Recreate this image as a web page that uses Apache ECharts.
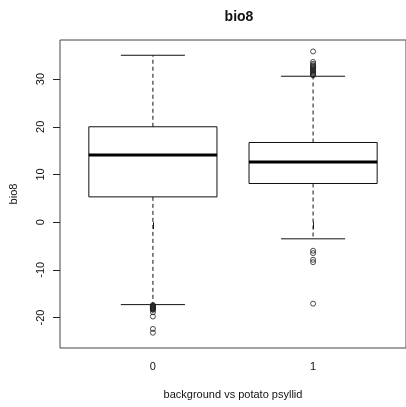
<!DOCTYPE html>
<html>
<head>
<meta charset="utf-8">
<script src="https://cdn.jsdelivr.net/npm/echarts@6/dist/echarts.min.js"></script>
<style>
html,body{margin:0;padding:0;background:#fff;}
#c{width:406px;height:407px;}
</style>
</head>
<body>
<div id="c"></div>
<script>
// Categories (x tick labels)
var categories = ['0', '1'];
// Box statistics per group: [lowerWhisker, q1, median, q3, upperWhisker]
var group0Stats = [-17.3, 5.3, 14.1, 20.0, 35.0];
var group1Stats = [-3.5, 8.1, 12.6, 16.7, 30.6];
// Outliers per group
var group0Outliers = [-17.4, -17.5, -17.6, -17.7, -17.8, -17.9, -18.0, -18.1, -18.2, -18.3, -18.4, -18.9, -19.8, -22.4, -23.2];
var group1Outliers = [35.8, 33.6, 33.2, 32.9, 32.7, 32.5, 32.3, 32.1, 31.9, 31.7, 31.5, 31.3, 31.1, 30.9, 30.8, -6.0, -6.5, -7.9, -8.4, -17.1];
// Y tick labels
var yTicks = [-20, -10, 0, 10, 20, 30];

var boxData = [
  [1].concat(group0Stats),
  [2].concat(group1Stats)
];
var outlierData = [];
group0Outliers.forEach(function (v) { outlierData.push([1, v]); });
group1Outliers.forEach(function (v) { outlierData.push([2, v]); });

var chart = echarts.init(document.getElementById('c'), null, {renderer: 'canvas'});
var txt = '#111';
var font = 'Liberation Sans, Arial, sans-serif';

chart.setOption({
  animation: false,
  backgroundColor: '#fff',
  title: {
    text: 'bio8',
    left: 234, top: 5, textAlign: 'center',
    textStyle: {fontFamily: font, fontSize: 14, fontWeight: 'bold', color: txt}
  },
  grid: {
    left: 60, top: 40, right: -2, bottom: 59,
    show: true, borderColor: '#444', borderWidth: 1, backgroundColor: 'transparent'
  },
  xAxis: {
    type: 'value', min: 0.42, max: 2.58,
    name: 'background vs potato psyllid', nameLocation: 'middle', nameGap: 41,
    nameTextStyle: {fontFamily: font, fontSize: 11, color: txt},
    axisLine: {show: false},
    splitLine: {show: false},
    axisTick: {show: true, customValues: [1, 2], length: 7, lineStyle: {color: '#222', width: 1}},
    axisLabel: {
      customValues: [1, 2], margin: 13,
      formatter: function (v) { return categories[Math.round(v) - 1]; },
      fontFamily: font, fontSize: 11, color: txt
    }
  },
  yAxis: {
    type: 'value', min: -26.4, max: 38.2,
    name: 'bio8', nameLocation: 'middle', nameGap: 41,
    nameTextStyle: {fontFamily: font, fontSize: 11, color: txt},
    axisLine: {show: false},
    splitLine: {show: false},
    axisTick: {show: true, customValues: yTicks, length: 7, lineStyle: {color: '#222', width: 1}},
    axisLabel: {
      customValues: yTicks, rotate: 90, margin: 14,
      fontFamily: font, fontSize: 11, color: txt
    }
  },
  series: [
    {
      type: 'custom',
      data: boxData,
      encode: {x: 0, y: [1, 2, 3, 4, 5]},
      renderItem: function (params, api) {
        var x = api.value(0);
        var lo = api.value(1), q1 = api.value(2), med = api.value(3), q3 = api.value(4), hi = api.value(5);
        var tl = api.coord([x - 0.4, q3]);
        var br = api.coord([x + 0.4, q1]);
        var cLo = api.coord([x, lo]);
        var cQ1 = api.coord([x, q1]);
        var cQ3 = api.coord([x, q3]);
        var cHi = api.coord([x, hi]);
        var mL = api.coord([x - 0.4, med]);
        var mR = api.coord([x + 0.4, med]);
        var capL = api.coord([x - 0.2, lo])[0];
        var capR = api.coord([x + 0.2, lo])[0];
        var st = {stroke: '#111', lineWidth: 1, fill: null};
        var dash = {stroke: '#111', lineWidth: 1, lineDash: [4, 3]};
        return {
          type: 'group',
          children: [
            {type: 'line', shape: {x1: cQ3[0], y1: cQ3[1], x2: cHi[0], y2: cHi[1]}, style: dash},
            {type: 'line', shape: {x1: cQ1[0], y1: cQ1[1], x2: cLo[0], y2: cLo[1]}, style: dash},
            {type: 'line', shape: {x1: capL, y1: cHi[1], x2: capR, y2: cHi[1]}, style: st},
            {type: 'line', shape: {x1: capL, y1: cLo[1], x2: capR, y2: cLo[1]}, style: st},
            {type: 'rect', shape: {x: tl[0], y: tl[1], width: br[0] - tl[0], height: br[1] - tl[1]}, style: st},
            {type: 'line', shape: {x1: mL[0], y1: mL[1], x2: mR[0], y2: mR[1]}, style: {stroke: '#000', lineWidth: 3}}
          ]
        };
      },
      z: 2
    },
    {
      type: 'scatter',
      data: outlierData,
      symbol: 'circle',
      symbolSize: 5,
      itemStyle: {color: 'rgba(0,0,0,0)', borderColor: '#222', borderWidth: 1},
      z: 3
    }
  ]
});
</script>
</body>
</html>
